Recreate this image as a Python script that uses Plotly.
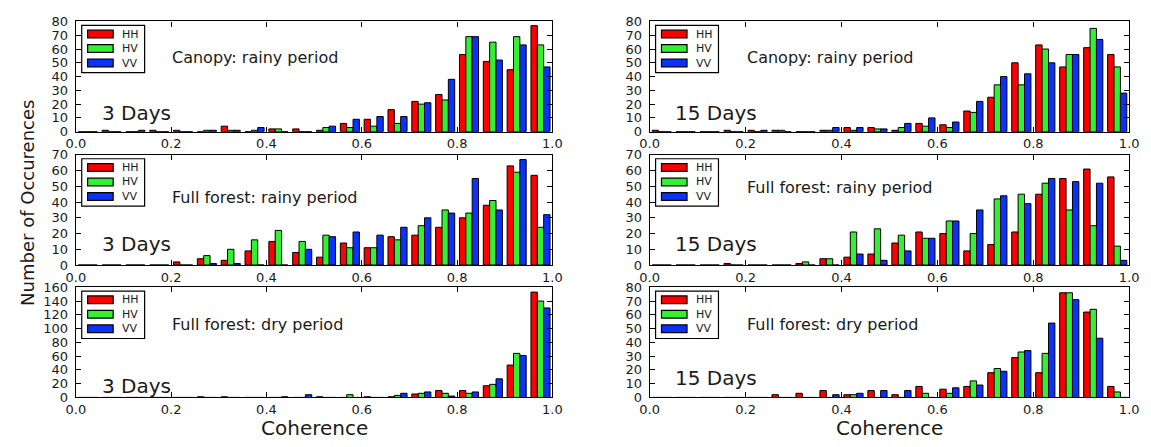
import plotly.graph_objects as go

# ---------------- data ----------------
bins = [0.00, 0.05, 0.10, 0.15, 0.20, 0.25, 0.30, 0.35, 0.40, 0.45,
        0.50, 0.55, 0.60, 0.65, 0.70, 0.75, 0.80, 0.85, 0.90, 0.95]
series_names = ["HH", "HV", "VV"]

# 3 days, canopy, rainy
d3_canopy_hh = [0, 1, 0, 1, 1, 0, 4, 0, 2, 2, 1, 6, 9, 16, 22, 27, 56, 51, 45, 77]
d3_canopy_hv = [0, 0, 0, 0, 0, 1, 1, 1, 2, 0, 3, 3, 4, 6, 20, 23, 69, 65, 69, 63]
d3_canopy_vv = [0, 0, 1, 0, 0, 1, 1, 3, 0, 0, 4, 9, 11, 11, 21, 38, 69, 52, 63, 47]
# 15 days, canopy, rainy
d15_canopy_hh = [1, 0, 0, 1, 1, 1, 0, 1, 3, 3, 1, 6, 5, 15, 25, 50, 63, 47, 61, 56]
d15_canopy_hv = [0, 0, 0, 0, 0, 1, 0, 1, 1, 2, 3, 4, 3, 14, 34, 34, 60, 56, 75, 47]
d15_canopy_vv = [0, 0, 0, 0, 1, 0, 0, 3, 3, 2, 6, 10, 7, 22, 40, 42, 50, 56, 67, 28]
# 3 days, full forest, rainy
d3_rainy_hh = [0, 0, 0, 0, 2, 4, 3, 9, 15, 8, 5, 14, 11, 18, 19, 24, 30, 38, 63, 57]
d3_rainy_hv = [0, 0, 0, 0, 0, 6, 10, 16, 22, 15, 19, 11, 11, 16, 25, 35, 33, 41, 59, 24]
d3_rainy_vv = [0, 0, 0, 0, 0, 1, 1, 0, 0, 10, 18, 21, 19, 24, 30, 33, 55, 35, 67, 32]
# 15 days, full forest, rainy
d15_rainy_hh = [0, 0, 0, 1, 0, 0, 1, 4, 5, 7, 14, 21, 20, 9, 13, 21, 45, 55, 61, 56]
d15_rainy_hv = [0, 0, 0, 0, 0, 0, 2, 4, 21, 23, 19, 17, 28, 20, 42, 45, 52, 35, 25, 12]
d15_rainy_vv = [0, 0, 0, 0, 0, 0, 0, 0, 7, 3, 9, 17, 28, 35, 44, 39, 55, 53, 52, 3]
# 3 days, full forest, dry
d3_dry_hh = [0, 0, 0, 0, 0, 1, 1, 0, 0, 0, 1, 0, 1, 1, 5, 10, 10, 17, 47, 153]
d3_dry_hv = [0, 0, 0, 0, 0, 0, 0, 0, 0, 0, 0, 4, 0, 3, 6, 6, 6, 19, 64, 140]
d3_dry_vv = [0, 0, 0, 0, 0, 0, 0, 0, 1, 4, 0, 0, 0, 6, 8, 2, 8, 27, 61, 130]
# 15 days, full forest, dry
d15_dry_hh = [0, 0, 0, 0, 0, 2, 3, 5, 2, 5, 2, 8, 6, 8, 18, 29, 18, 76, 62, 8]
d15_dry_hv = [0, 0, 0, 0, 0, 0, 0, 0, 2, 0, 0, 3, 3, 12, 21, 33, 32, 76, 64, 4]
d15_dry_vv = [0, 0, 0, 0, 0, 0, 0, 2, 3, 5, 5, 0, 7, 9, 19, 34, 54, 71, 43, 0]

panel_titles = ["Canopy: rainy period", "Canopy: rainy period",
                "Full forest: rainy period", "Full forest: rainy period",
                "Full forest: dry period", "Full forest: dry period"]
panel_days = ["3 Days", "15 Days", "3 Days", "15 Days", "3 Days", "15 Days"]
panel_ymax = [80, 80, 70, 70, 160, 80]
panel_dtick = [10, 10, 10, 10, 20, 10]
x_ticks = [0.0, 0.2, 0.4, 0.6, 0.8, 1.0]

panels = [
    (d3_canopy_hh, d3_canopy_hv, d3_canopy_vv),
    (d15_canopy_hh, d15_canopy_hv, d15_canopy_vv),
    (d3_rainy_hh, d3_rainy_hv, d3_rainy_vv),
    (d15_rainy_hh, d15_rainy_hv, d15_rainy_vv),
    (d3_dry_hh, d3_dry_hv, d3_dry_vv),
    (d15_dry_hh, d15_dry_hv, d15_dry_vv),
]

# ---------------- style / layout ----------------
W, H = 1151, 447
colors = ["#ff0000", "#33f033", "#0a32ff"]
FONT = "DejaVu Sans"
TXT = "#1a1a1a"

col_px = [(67, 552), (651, 1139)]
row_px = [(15, 129), (153, 267), (290, 404)]
title_y = [52.7, 52.7, 196.7, 186.7, 328.3, 328.3]
days_y = [110, 110, 245, 245, 391.7, 384]
title_x = [163, 748.5]
days_x = [92, 675]


def px(x):
    return x / W


def py(y):
    return 1 - y / H


bin_w = 0.05
bar_w = 0.8 * bin_w / 3

fig = go.Figure()
shapes = []
annotations = []

for k, (vals, ymax, dt) in enumerate(zip(panels, panel_ymax, panel_dtick)):
    r, c = divmod(k, 2)
    idx = k + 1
    xa = "x" if idx == 1 else f"x{idx}"
    ya = "y" if idx == 1 else f"y{idx}"
    for i, (name, v) in enumerate(zip(series_names, vals)):
        fig.add_trace(go.Bar(
            x=bins, y=v, name=name, xaxis=xa, yaxis=ya,
            width=bar_w, offset=0.1 * bin_w + i * bar_w,
            marker=dict(color=colors[i], line=dict(color="black", width=1)),
            showlegend=False,
        ))
    x0, x1 = col_px[c]
    y0, y1 = row_px[r]
    axis_common = dict(
        showline=True, linecolor="black", linewidth=1.3, mirror="allticks",
        ticks="inside", ticklen=5, tickwidth=1, tickcolor="black",
        showgrid=False, zeroline=False,
        tickfont=dict(family=FONT, size=13, color=TXT),
    )
    fig.layout[f"xaxis{idx}"] = dict(
        domain=[px(x0), px(x1)], anchor=ya, range=[0, 1],
        tickvals=x_ticks, tickformat=".1f", ticklabelstandoff=0, **axis_common)
    fig.layout[f"yaxis{idx}"] = dict(
        domain=[py(y1), py(y0)], anchor=xa, range=[0, ymax],
        dtick=dt, tick0=0, ticklabelstandoff=4, **axis_common)

    # in-panel texts
    annotations.append(dict(
        x=px(title_x[c]), y=py(title_y[k]), xref="paper", yref="paper",
        text=panel_titles[k], showarrow=False, xanchor="left", yanchor="middle",
        font=dict(family=FONT, size=16, color=TXT)))
    annotations.append(dict(
        x=px(days_x[c]), y=py(days_y[k]), xref="paper", yref="paper",
        text=panel_days[k], showarrow=False, xanchor="left", yanchor="middle",
        font=dict(family=FONT, size=20, color=TXT)))

    # legend box
    shapes.append(dict(type="rect", xref="paper", yref="paper",
                       x0=px(x0 + 6), x1=px(x0 + 70), y0=py(y0 + 53), y1=py(y0 + 4),
                       line=dict(color="black", width=1.2), fillcolor="white", layer="above"))
    for i, name in enumerate(series_names):
        ry = y0 + 13 + i * 15
        shapes.append(dict(type="rect", xref="paper", yref="paper",
                           x0=px(x0 + 12), x1=px(x0 + 38), y0=py(ry + 4), y1=py(ry - 4),
                           line=dict(color="black", width=1.2), fillcolor=colors[i], layer="above"))
        annotations.append(dict(
            x=px(x0 + 45), y=py(ry), xref="paper", yref="paper", text=name,
            showarrow=False, xanchor="left", yanchor="middle",
            font=dict(family=FONT, size=11, color=TXT)))

# axis titles
annotations.append(dict(x=px(18), y=py(203), xref="paper", yref="paper",
                        text="Number of Occurences", textangle=-90, showarrow=False,
                        xanchor="center", yanchor="middle",
                        font=dict(family=FONT, size=18, color=TXT)))
for c in range(2):
    annotations.append(dict(x=px(sum(col_px[c]) / 2), y=py(436), xref="paper", yref="paper",
                            text="Coherence", showarrow=False,
                            xanchor="center", yanchor="middle",
                            font=dict(family=FONT, size=20, color=TXT)))

fig.update_layout(
    width=W, height=H, margin=dict(l=0, r=0, t=0, b=0),
    paper_bgcolor="white", plot_bgcolor="white",
    barmode="overlay", showlegend=False,
    shapes=shapes, annotations=annotations,
    font=dict(family=FONT),
)

fig.write_html(
    "out.html",
    config={"displayModeBar": False},
    post_script="document.body.style.margin='0';document.body.style.overflow='hidden';",
)
